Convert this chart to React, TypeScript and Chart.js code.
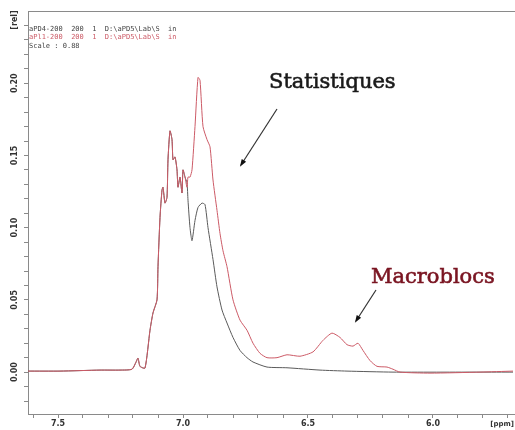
import React, { useEffect, useRef } from "react";
import { Chart, registerables } from "chart.js";

Chart.register(...registerables);

// Chemical shift (ppm) and intensity (rel) for the red trace (Statistiques)
const redPpm = [
  7.62, 7.492, 7.332, 7.252, 7.204, 7.188, 7.18, 7.172, 7.152, 7.132, 7.12, 7.104, 7.1, 7.092,
  7.084, 7.08, 7.072, 7.064, 7.06, 7.052, 7.044, 7.04, 7.032, 7.024, 7.02, 7.012, 7.004, 7.0,
  6.992, 6.984, 6.98, 6.972, 6.964, 6.952, 6.94, 6.932, 6.92, 6.904, 6.892, 6.88, 6.864, 6.852,
  6.84, 6.824, 6.8, 6.772, 6.744, 6.72, 6.692, 6.664, 6.624, 6.584, 6.532, 6.48, 6.44, 6.404,
  6.372, 6.344, 6.32, 6.3, 6.28, 6.252, 6.224, 6.184, 6.16, 6.132, 6.012, 5.812, 5.68,
];
const redVal = [
  0.0007, 0.0007, 0.0014, 0.0014, 0.002, 0.0069, 0.0097, 0.004, 0.0028, 0.029, 0.041, 0.05,
  0.073, 0.107, 0.126, 0.128, 0.117, 0.121, 0.147, 0.167, 0.161, 0.147, 0.149, 0.14, 0.128, 0.135,
  0.124, 0.14, 0.135, 0.128, 0.135, 0.135, 0.14, 0.17, 0.204, 0.202, 0.17, 0.161, 0.156, 0.133,
  0.112, 0.096, 0.084, 0.073, 0.05, 0.036, 0.029, 0.02, 0.013, 0.01, 0.01, 0.012, 0.011, 0.014,
  0.022, 0.027, 0.024, 0.019, 0.018, 0.02, 0.015, 0.008, 0.004, 0.0035, 0.002, 0.0, -0.0007, 0.0,
  0.0007,
];

// Black trace (reference)
const blackPpm = [
  7.62, 7.492, 7.332, 7.252, 7.204, 7.188, 7.18, 7.172, 7.152, 7.132, 7.12, 7.104, 7.1, 7.092,
  7.084, 7.08, 7.072, 7.064, 7.06, 7.052, 7.044, 7.04, 7.032, 7.024, 7.02, 7.012, 7.004, 7.0,
  6.992, 6.984, 6.98, 6.972, 6.964, 6.952, 6.94, 6.924, 6.912, 6.9, 6.88, 6.864, 6.844, 6.824,
  6.8, 6.772, 6.744, 6.72, 6.664, 6.584, 6.452, 6.344, 6.16, 5.812, 5.68,
];
const blackVal = [
  0.0007, 0.0007, 0.0014, 0.0014, 0.002, 0.0069, 0.0097, 0.004, 0.0028, 0.029, 0.041, 0.05,
  0.073, 0.107, 0.126, 0.128, 0.117, 0.121, 0.147, 0.167, 0.161, 0.147, 0.149, 0.14, 0.128, 0.135,
  0.124, 0.14, 0.135, 0.131, 0.119, 0.1, 0.091, 0.105, 0.114, 0.117, 0.116, 0.1, 0.078, 0.059,
  0.043, 0.034, 0.024, 0.015, 0.01, 0.007, 0.0035, 0.003, 0.0014, 0.0007, 0.0, 0.0, 0.0,
];

const xTickValues = [7.6, 7.5, 7.4, 7.3, 7.2, 7.1, 7.0, 6.9, 6.8, 6.7, 6.6, 6.5, 6.4, 6.3, 6.2, 6.1, 6.0, 5.9, 5.8, 5.7];
const xMajorLabels = [7.5, 7.0, 6.5, 6.0];
const yMajorLabels = [0.0, 0.05, 0.1, 0.15, 0.2];
const legendLines = [
  "aPD4-200  200  1  D:\\aPD5\\Lab\\S  in",
  "aPl1-200  200  1  D:\\aPD5\\Lab\\S  in",
  "Scale : 0.88",
];
const annotations = ["Statistiques", "Macroblocs"];

const RED = "#cc5a66";
const BLACK = "#5a5a5a";
const AXIS = "#8a8a8a";

function arrow(ctx: CanvasRenderingContext2D, x1: number, y1: number, x2: number, y2: number) {
  ctx.save();
  ctx.strokeStyle = "#333";
  ctx.fillStyle = "#111";
  ctx.lineWidth = 1.2;
  ctx.beginPath();
  ctx.moveTo(x1, y1);
  ctx.lineTo(x2, y2);
  ctx.stroke();
  const a = Math.atan2(y2 - y1, x2 - x1);
  const L = 6;
  ctx.beginPath();
  ctx.moveTo(x2 + Math.cos(a) * 2, y2 + Math.sin(a) * 2);
  ctx.lineTo(x2 - Math.cos(a - 0.45) * L, y2 - Math.sin(a - 0.45) * L);
  ctx.lineTo(x2 - Math.cos(a + 0.45) * L, y2 - Math.sin(a + 0.45) * L);
  ctx.closePath();
  ctx.fill();
  ctx.restore();
}

function boldText(ctx: CanvasRenderingContext2D, t: string, x: number, y: number, color: string) {
  ctx.fillStyle = color;
  ctx.strokeStyle = color;
  ctx.lineWidth = 0.6;
  ctx.fillText(t, x, y);
  ctx.strokeText(t, x, y);
}

const decorPlugin = {
  id: "decor",
  afterDraw(chart: any) {
    const ctx: CanvasRenderingContext2D = chart.ctx;
    const area = chart.chartArea;
    const ys = chart.scales.y;
    ctx.save();
    // top frame line
    ctx.strokeStyle = AXIS;
    ctx.lineWidth = 1;
    ctx.beginPath();
    ctx.moveTo(area.left, area.top + 0.5);
    ctx.lineTo(area.right, area.top + 0.5);
    ctx.stroke();

    // y labels, rotated
    ctx.fillStyle = "#333";
    ctx.font = "bold 8px 'DejaVu Sans'";
    ctx.textAlign = "center";
    ctx.textBaseline = "middle";
    yMajorLabels.forEach((v) => {
      const py = ys.getPixelForValue(v);
      ctx.save();
      ctx.translate(15, py);
      ctx.rotate(-Math.PI / 2);
      ctx.fillText(v.toFixed(2), 0, 0);
      ctx.restore();
    });
    ctx.save();
    ctx.translate(15, 20);
    ctx.rotate(-Math.PI / 2);
    ctx.fillText("[rel]", 0, 0);
    ctx.restore();

    // x unit
    ctx.textAlign = "right";
    ctx.font = "bold 7px 'DejaVu Sans'";
    ctx.fillText("[ppm]", 514, 424);

    // legend text
    ctx.textAlign = "left";
    ctx.font = "7px 'DejaVu Sans Mono'";
    ctx.textBaseline = "middle";
    legendLines.forEach((t, i) => {
      ctx.fillStyle = i === 1 ? RED : "#444";
      ctx.fillText(t, 29, 29 + i * 8.5);
    });

    // annotations
    ctx.font = "21px 'DejaVu Serif'";
    ctx.textBaseline = "alphabetic";
    boldText(ctx, annotations[0], 269, 88, "#1a1a1a");
    arrow(ctx, 277, 109, 241, 165);
    boldText(ctx, annotations[1], 371, 283, "#7a1522");
    arrow(ctx, 376, 290, 356, 321);
    ctx.restore();
  },
};

export default function App() {
  const ref = useRef<HTMLCanvasElement | null>(null);
  useEffect(() => {
    if (!ref.current) return;
    const chart = new Chart(ref.current, {
      type: "line",
      data: {
        datasets: [
          {
            label: "red",
            data: redPpm.map((x, i) => ({ x, y: redVal[i] })),
            borderColor: RED,
            borderWidth: 1,
            pointRadius: 0,
            tension: 0.2,
          },
          {
            label: "black",
            data: blackPpm.map((x, i) => ({ x, y: blackVal[i] })),
            borderColor: BLACK,
            borderWidth: 1,
            pointRadius: 0,
            tension: 0.2,
          },
        ],
      },
      options: {
        responsive: false,
        animation: false,
        layout: { padding: { top: 11, left: 0, right: 0, bottom: 0 } },
        plugins: { legend: { display: false }, tooltip: { enabled: false } },
        scales: {
          x: {
            type: "linear",
            reverse: true,
            min: 5.672,
            max: 7.62,
            afterBuildTicks: (s: any) => {
              s.ticks = xTickValues.map((v) => ({ value: v }));
            },
            afterFit: (s: any) => {
              s.height = 16;
            },
            ticks: {
              autoSkip: false,
              maxRotation: 0,
              minRotation: 0,
              padding: 1,
              color: "#333",
              font: { family: "DejaVu Sans", size: 8, weight: "bold" },
              callback: (v: any) => {
                const n = Number(v);
                return xMajorLabels.some((m) => Math.abs(m - n) < 1e-6) ? n.toFixed(1) : "";
              },
            },
            grid: { drawOnChartArea: false, drawTicks: true, tickLength: 4, color: AXIS },
            border: { color: AXIS, width: 1 },
          },
          y: {
            type: "linear",
            min: -0.029,
            max: 0.25,
            afterBuildTicks: (s: any) => {
              const t = [];
              for (let k = -2; k <= 24; k++) t.push({ value: k / 100 });
              s.ticks = t;
            },
            afterFit: (s: any) => {
              s.width = 28;
            },
            ticks: { display: false },
            grid: { drawOnChartArea: false, drawTicks: true, tickLength: 4, color: AXIS },
            border: { color: AXIS, width: 1 },
          },
        },
      },
      plugins: [decorPlugin],
    });
    return () => chart.destroy();
  }, []);
  return (
    <div style={{ position: "fixed", left: 0, top: 0, width: 515, height: 430, background: "#fff" }}>
      <canvas ref={ref} width={515} height={430} style={{ display: "block" }} />
    </div>
  );
}
